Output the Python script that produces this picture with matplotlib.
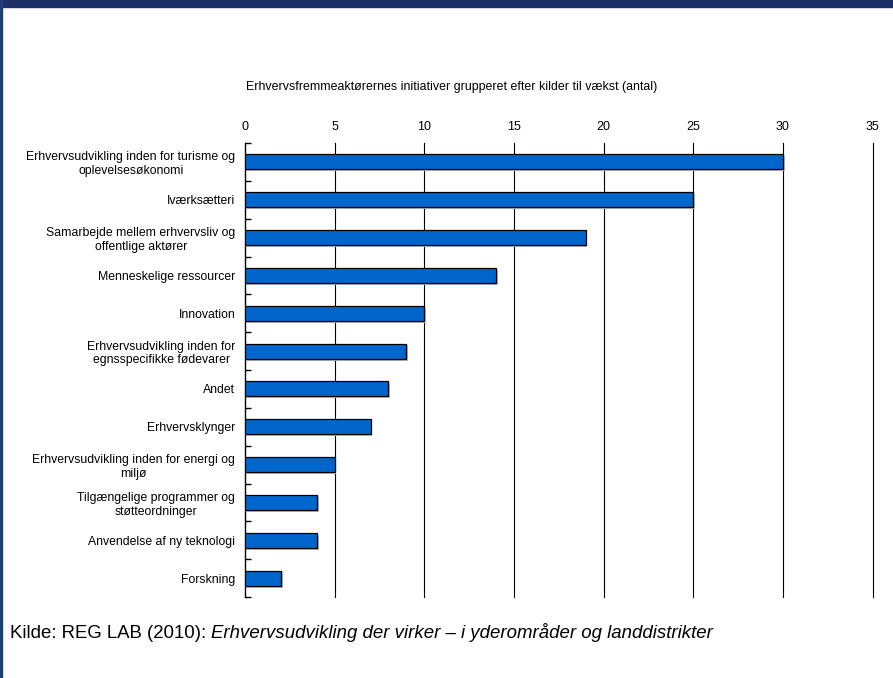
import numpy as np
import matplotlib
matplotlib.use("Agg")
import matplotlib.pyplot as plt
from matplotlib.patches import Rectangle

plt.rcParams['font.family'] = ['Liberation Sans', 'DejaVu Sans']

# data
categories = ["Erhvervsudvikling inden for turisme og\noplevelsesøkonomi",
              "Iværksætteri",
              "Samarbejde mellem erhvervsliv og\noffentlige aktører",
              "Menneskelige ressourcer",
              "Innovation",
              "Erhvervsudvikling inden for\negnsspecifikke fødevarer",
              "Andet",
              "Erhvervsklynger",
              "Erhvervsudvikling inden for energi og\nmiljø",
              "Tilgængelige programmer og\nstøtteordninger",
              "Anvendelse af ny teknologi",
              "Forskning"]
values = [30, 25, 19, 14, 10, 9, 8, 7, 5, 4, 4, 2]
xticks = [0, 5, 10, 15, 20, 25, 30, 35]

title = "Erhvervsfremmeaktørernes initiativer grupperet efter kilder til vækst (antal)"
source_a = "Kilde: REG LAB (2010): "
source_b = "Erhvervsudvikling der virker – i yderområder og landdistrikter"

fig = plt.figure(figsize=(8.93, 6.78), dpi=100)

# frame: top band and left border
fig.patches.append(Rectangle((0, 1 - 7/678), 1, 7/678, transform=fig.transFigure,
                             color='#1c2f66', zorder=0))
fig.patches.append(Rectangle((0, 0), 2/893, 1, transform=fig.transFigure,
                             color='#1c3f7a', zorder=0))

ax = fig.add_axes([245/893, 81/678, 627.6/893, 454/678])
n = len(categories)
y = np.arange(n)
# shadow
ax.barh(y + 0.05, values, height=0.4, left=0.1, color='#b8b8b8', zorder=2)
ax.barh(y, values, height=0.4, color='#0066cc', edgecolor='black', linewidth=0.9, zorder=3)

ax.set_ylim(n - 0.5, -0.5)
ax.set_xlim(0, 35)
ax.xaxis.tick_top()
ax.set_xticks(xticks)
ax.tick_params(axis='x', length=0, pad=7.5, labelsize=9)
for xv in xticks[1:]:
    ax.axvline(xv, color='black', linewidth=0.8, zorder=1, clip_on=False)

ax.set_yticks(np.arange(n + 1) - 0.5)
ax.set_yticklabels([])
ax.set_yticks(y, minor=True)
ax.set_yticklabels(categories, minor=True, fontsize=8.8, multialignment='center')
ax.tick_params(axis='y', which='major', direction='in', length=4, width=1, color='black')
ax.tick_params(axis='y', which='minor', length=0, pad=7)

for s in ['top', 'right', 'bottom']:
    ax.spines[s].set_visible(False)
ax.spines['left'].set_linewidth(1.0)

fig.text(452/893, 1 - 87/678, title, ha='center', va='center', fontsize=8.9)

t1 = fig.text(10/893, 1 - 638/678, source_a, ha='left', va='baseline', fontsize=13.4)
fig.canvas.draw()
bb = t1.get_window_extent()
fig.text(bb.x1 / fig.bbox.width, 1 - 638/678, source_b, ha='left', va='baseline',
         fontsize=13.4, style='italic')

fig.savefig("out.png", dpi=100)
